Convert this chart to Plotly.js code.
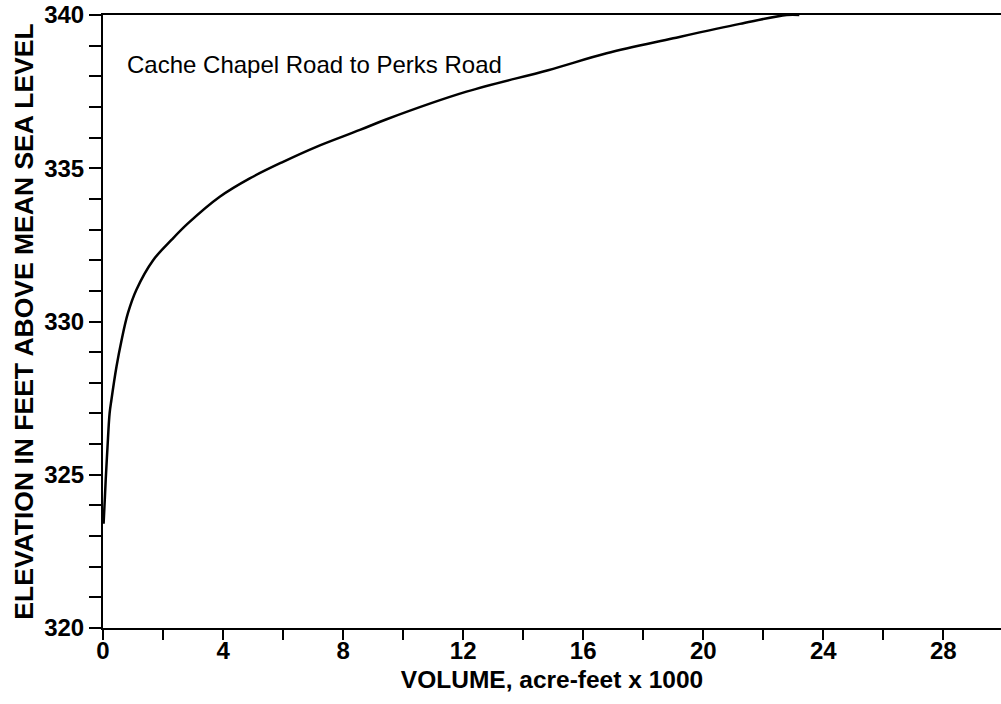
<!DOCTYPE html>
<html>
<head>
<meta charset="utf-8">
<script src="https://cdn.plot.ly/plotly-3.0.1.min.js"></script>
<style>
  html, body { margin: 0; padding: 0; background: #fff; }
  #chart { width: 1001px; height: 704px; }
</style>
</head>
<body>
<div id="chart"></div>
<script>
// Elevation-storage curve for the reach between Cache Chapel Road and Perks Road
const volume = [0.02, 0.06, 0.09, 0.15, 0.22, 0.28, 0.45, 0.61, 0.83, 1.11, 1.67, 2.28, 2.83, 3.89, 4.89, 6.0, 7.11, 8.56, 9.45, 12.11, 14.83, 16.78, 19.0, 21.22, 22.78, 23.2];
const elevation = [323.4, 324.2, 324.83, 325.9, 327.0, 327.44, 328.53, 329.35, 330.27, 331.03, 332.0, 332.66, 333.2, 334.07, 334.67, 335.21, 335.7, 336.25, 336.6, 337.5, 338.2, 338.75, 339.24, 339.71, 340.0, 340.0];

const xTickVals = [0, 4, 8, 12, 16, 20, 24, 28];
const xTickText = ['0', '4', '8', '12', '16', '20', '24', '28'];
const yTickVals = [320, 325, 330, 335, 340];
const yTickText = ['320', '325', '330', '335', '340'];

const reachLabel = 'Cache Chapel Road to Perks Road';
const xTitle = 'VOLUME, acre-feet x 1000';
const yTitle = 'ELEVATION IN FEET ABOVE MEAN SEA LEVEL';

const FONT = 'Liberation Sans, Arial, Helvetica, sans-serif';

const trace = {
  x: volume,
  y: elevation,
  mode: 'lines',
  type: 'scatter',
  line: { color: '#000', width: 2.5, shape: 'spline', smoothing: 1 },
  hoverinfo: 'skip',
  cliponaxis: true
};

const layout = {
  width: 1001,
  height: 704,
  margin: { l: 103, r: 0, t: 15, b: 76 },
  paper_bgcolor: '#fff',
  plot_bgcolor: '#fff',
  showlegend: false,
  font: { family: FONT, color: '#000' },
  xaxis: {
    range: [0, 29.92],
    showgrid: false,
    zeroline: false,
    showline: true,
    mirror: true,
    linecolor: '#000',
    linewidth: 2,
    ticks: 'outside',
    ticklen: 10,
    tickwidth: 2,
    tickcolor: '#000',
    tickvals: xTickVals,
    ticktext: xTickText,
    ticklabelstandoff: -10,
    tickfont: { family: FONT, size: 24, weight: 'bold', color: '#000' },
    minor: { dtick: 2, tick0: 0, ticks: 'outside', ticklen: 10, tickwidth: 2, tickcolor: '#000', showgrid: false },
    title: { text: xTitle, font: { family: FONT, size: 24.5, weight: 'bold', color: '#000' }, standoff: 8 },
    automargin: false,
    fixedrange: true
  },
  yaxis: {
    range: [320, 340],
    showgrid: false,
    zeroline: false,
    showline: true,
    linecolor: '#000',
    linewidth: 2,
    ticks: 'outside',
    ticklen: 12,
    tickwidth: 2,
    tickcolor: '#000',
    tickvals: yTickVals,
    ticktext: yTickText,
    tickfont: { family: FONT, size: 24, weight: 'bold', color: '#000' },
    minor: { dtick: 1, tick0: 320, ticks: 'outside', ticklen: 12, tickwidth: 2, tickcolor: '#000', showgrid: false },
    title: { text: yTitle, font: { family: FONT, size: 26.5, weight: 'bold', color: '#000' }, standoff: 3 },
    automargin: false,
    fixedrange: true
  },
  annotations: [{
    text: reachLabel,
    xref: 'paper', yref: 'paper',
    x: 0.025, y: 0.92,
    xanchor: 'left', yanchor: 'middle',
    showarrow: false,
    font: { family: FONT, size: 24, color: '#000' }
  }]
};

Plotly.newPlot('chart', [trace], layout, { staticPlot: true, displayModeBar: false });
</script>
</body>
</html>
